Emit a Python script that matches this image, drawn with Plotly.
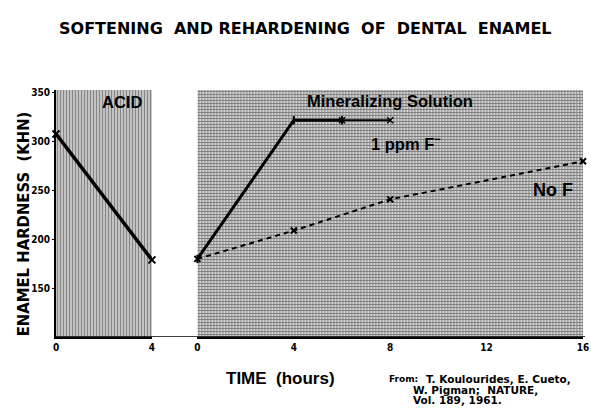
import plotly.graph_objects as go

# ---- data ----
acid_time = [0, 4]
acid_hardness = [308, 179]

fluor_time = [0, 4, 6]
fluor_hardness = [180, 322, 322]
fluor_tail_time = [6, 8]
fluor_tail_hardness = [322, 322]

nof_time = [0, 4, 8, 16]
nof_hardness = [180, 209, 241, 280]

y_ticks = [150, 200, 250, 300, 350]
left_ticks = [0, 4]
right_ticks = [0, 4, 8, 12, 16]

Y_RANGE = [100, 353]
LEFT_RANGE = [0, 4]
RIGHT_RANGE = [0, 16]

W, H = 591, 416
L, R, T, B = 56, 0, 90, 79
PW, PH = W - L - R, H - T - B

def px(x):  # screen x -> paper x
    return (x - L) / PW

def py(y):  # screen y -> paper y
    return (H - B - y) / PH

TICKFONT = dict(family="Liberation Sans Narrow, DejaVu Sans Condensed, Arial", size=10, color="black")
BOLD = "Liberation Sans, Arial, sans-serif"
NARROW = "Liberation Sans Narrow, DejaVu Sans Condensed, Arial"
HEAVY = "DejaVu Sans, Liberation Sans, sans-serif"

fig = go.Figure()

# background panels (patterned)
fig.add_trace(go.Scatter(
    x=[LEFT_RANGE[0], LEFT_RANGE[1], LEFT_RANGE[1], LEFT_RANGE[0], LEFT_RANGE[0]],
    y=[Y_RANGE[0], Y_RANGE[0], Y_RANGE[1], Y_RANGE[1], Y_RANGE[0]],
    xaxis="x", yaxis="y", mode="none", fill="toself", fillcolor="rgba(0,0,0,0)",
    fillpattern=dict(shape="|", size=3, solidity=0.55, fgcolor="#2a2a2a", bgcolor="#e0e0e0"),
    hoverinfo="skip", showlegend=False))
fig.add_trace(go.Scatter(
    x=[RIGHT_RANGE[0], RIGHT_RANGE[1], RIGHT_RANGE[1], RIGHT_RANGE[0], RIGHT_RANGE[0]],
    y=[Y_RANGE[0], Y_RANGE[0], Y_RANGE[1], Y_RANGE[1], Y_RANGE[0]],
    xaxis="x2", yaxis="y", mode="none", fill="toself", fillcolor="rgba(0,0,0,0)",
    fillpattern=dict(shape="+", size=3, solidity=0.5, fgcolor="#222222", bgcolor="#d4d4d4"),
    hoverinfo="skip", showlegend=False))

# data lines
fig.add_trace(go.Scatter(
    x=acid_time, y=acid_hardness, xaxis="x", yaxis="y", mode="lines+markers",
    line=dict(color="black", width=3.5),
    marker=dict(symbol="x-thin", size=7, line=dict(width=2, color="black")),
    cliponaxis=False, showlegend=False))
fig.add_trace(go.Scatter(
    x=fluor_time, y=fluor_hardness, xaxis="x2", yaxis="y", mode="lines+markers",
    line=dict(color="black", width=3),
    marker=dict(symbol="line-ns", size=6, line=dict(width=2, color="black")),
    cliponaxis=False, showlegend=False))
fig.add_trace(go.Scatter(
    x=fluor_tail_time, y=fluor_tail_hardness, xaxis="x2", yaxis="y", mode="lines+markers",
    line=dict(color="black", width=1.8),
    marker=dict(symbol="x-thin", size=6, line=dict(width=1.5, color="black")),
    cliponaxis=False, showlegend=False))
fig.add_trace(go.Scatter(
    x=nof_time, y=nof_hardness, xaxis="x2", yaxis="y", mode="lines+markers",
    line=dict(color="black", width=2, dash="5px,4px"),
    marker=dict(symbol="x-thin", size=6, line=dict(width=2, color="black")),
    cliponaxis=False, showlegend=False))

# baseline across the gap
fig.add_shape(type="line", xref="paper", yref="y", x0=0, x1=1, y0=Y_RANGE[0], y1=Y_RANGE[0],
              line=dict(color="black", width=1.5))

def note(text, x, y, font, xref="paper", yref="paper", xanchor="center", **kw):
    return dict(text=text, xref=xref, yref=yref, x=x, y=y, xanchor=xanchor, yanchor="middle",
                showarrow=False, font=font, **kw)

SRC = dict(family=HEAVY, size=10.5, color="black", weight="bold")
ann = [
    note("SOFTENING  AND REHARDENING  OF  DENTAL  ENAMEL", px(308), py(28),
         dict(family=HEAVY, size=16, color="black", weight="bold")),
    note("ENAMEL HARDNESS  (KHN)", px(23), py(224),
         dict(family=NARROW, size=16.5, color="black", weight="bold"), textangle=-90),
    note("TIME  (hours)", px(283), py(378),
         dict(family=BOLD, size=17, color="black", weight="bold")),
    note("From:", px(424), py(379), dict(family=HEAVY, size=9, color="black", weight="bold"),
         xanchor="right"),
    note("T. Koulourides, E. Cueto,", px(428), py(379), SRC, xanchor="left"),
    note("W. Pigman;  NATURE,", px(415), py(389.5), SRC, xanchor="left"),
    note("Vol. 189, 1961.", px(415), py(400), SRC, xanchor="left"),
    note("ACID", 2.76, 341, dict(family=BOLD, size=16.5, color="black", weight="bold"),
         xref="x", yref="y"),
    note("Mineralizing Solution", 8.0, 342, dict(family=BOLD, size=16.5, color="black", weight="bold"),
         xref="x2", yref="y"),
    note("1 ppm F<sup>−</sup>", 8.65, 299, dict(family=BOLD, size=16.5, color="black", weight="bold"),
         xref="x2", yref="y"),
    note("No F", 14.75, 251, dict(family=BOLD, size=18, color="black", weight="bold"),
         xref="x2", yref="y"),
]

fig.update_layout(
    width=W, height=H, margin=dict(l=L, r=R, t=T, b=B),
    paper_bgcolor="white", plot_bgcolor="white",
    showlegend=False, annotations=ann,
    xaxis=dict(domain=[0, px(153)], range=LEFT_RANGE, tickvals=left_ticks,
               ticktext=[f"<b>{v}</b>" for v in left_ticks], tickfont=TICKFONT,
               showgrid=False, zeroline=False, showline=True, linecolor="black", linewidth=1.5,
               ticks="", anchor="y", ticklabeloverflow="allow"),
    xaxis2=dict(domain=[px(199), px(589)], range=RIGHT_RANGE, tickvals=right_ticks,
                ticktext=[f"<b>{v}</b>" for v in right_ticks], tickfont=TICKFONT,
                showgrid=False, zeroline=False, showline=True, linecolor="black", linewidth=1.5,
                ticks="", anchor="y", ticklabeloverflow="allow"),
    yaxis=dict(domain=[0, 1], range=Y_RANGE, tickvals=y_ticks,
               ticktext=[f"<b>{v}</b>" for v in y_ticks], tickfont=TICKFONT,
               showgrid=False, zeroline=False, showline=True, linecolor="black", linewidth=2,
               ticks="outside", ticklen=2, tickcolor="black", anchor="x"),
)

# remove the default page margin so the 591x416 figure fills the window exactly
fig.write_html("out.html", config={"displayModeBar": False},
               post_script="document.body.style.margin='0';document.body.style.overflow='hidden';")
